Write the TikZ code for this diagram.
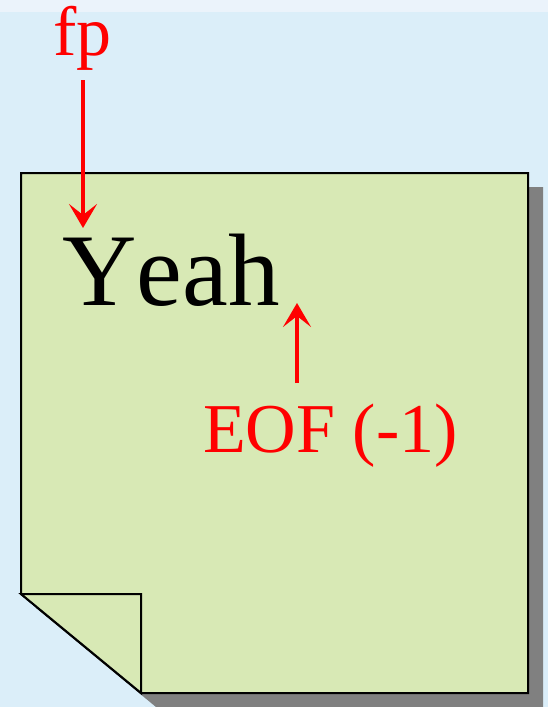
\documentclass[tikz,border=0pt]{standalone}
\usepackage{fontspec}
\setmainfont{Liberation Serif}
\usetikzlibrary{positioning,arrows.meta,calc}
\definecolor{skyback}{HTML}{DBEEF9}
\definecolor{skytop}{HTML}{EBF3FB}
\definecolor{notegreen}{HTML}{D8E9B5}
\definecolor{shadowgray}{HTML}{808080}
\tikzset{
  pointer/.style={-{Stealth[length=24pt,width=28pt,inset=11pt]}, line width=4pt, red},
  redlabel/.style={red, inner sep=0pt, anchor=base west, font=\fontsize{70}{78}\selectfont},
}
\begin{document}
\begin{tikzpicture}[x=1pt, y=-1pt]
    % Background
    \useasboundingbox (0,0) rectangle (548,707);
    \fill[skyback] (0,0) rectangle (548,707);
    \fill[skytop] (0,0) rectangle (548,12);

    % Shadow of the note
    \fill[shadowgray] (36,187) -- (543,187) -- (543,707) -- (156,707) -- (36,608) -- cycle;

    % Note with folded corner
    \draw[line width=2pt, fill=notegreen, line join=miter] (21,173) -- (528,173) -- (528,693) -- (141,693) -- (21,594) -- cycle;
    \draw[line width=2pt, fill=notegreen] (21,594) -- (141,594) -- (141,693) -- cycle;

    % Texts
    \node[redlabel] (fp) at (53,55) {fp};
    \node[inner sep=0pt, anchor=base west, font=\fontsize{103}{110}\selectfont\addfontfeature{Kerning=Off}] (yeah) at (62,305) {Yeah};
    \node[redlabel] (eof) at (203,452) {EOF (-1)};

    % Pointers
    \coordinate (fpstart) at (83,80);
    \coordinate (fptip) at (83,228);
    \coordinate (eofstart) at (297,383);
    \coordinate (eoftip) at (297,303);
    \draw[pointer] (fpstart) -- (fptip);
    \draw[pointer] (eofstart) -- (eoftip);
\end{tikzpicture}
\end{document}
